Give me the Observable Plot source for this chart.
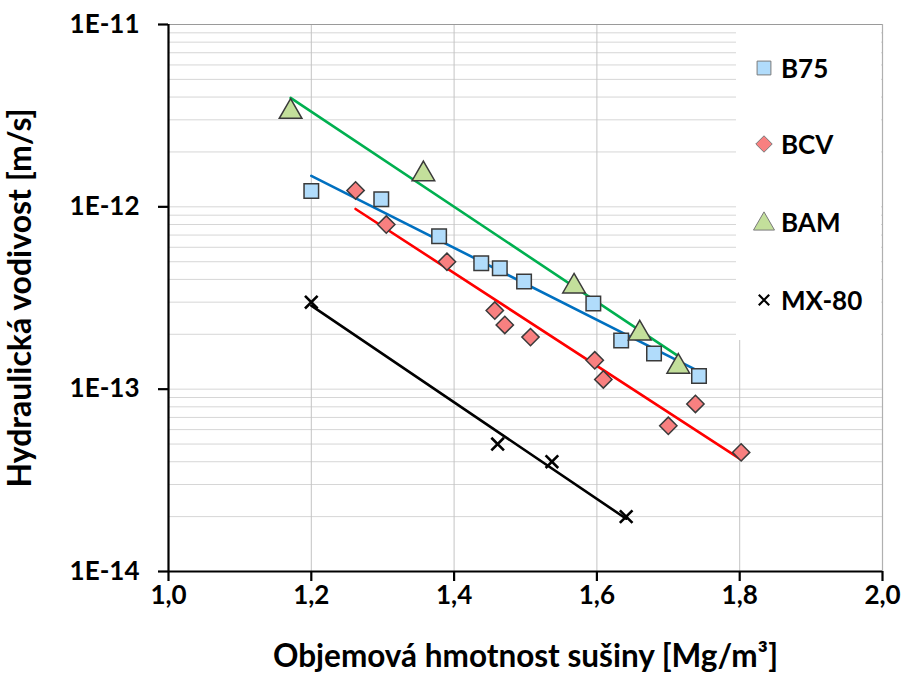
<!DOCTYPE html>
<html><head><meta charset="utf-8">
<script src="https://cdn.jsdelivr.net/npm/d3@7"></script>
<script src="https://cdn.jsdelivr.net/npm/@observablehq/plot@0.6"></script>
<style>
body{margin:0;background:#fff;}
#wrap{position:relative;width:903px;height:673px;font-family:Lato,"Open Sans",sans-serif;}
#legend{position:absolute;left:736px;top:25px;width:145px;height:315px;background:#fff;}
.item{position:absolute;left:0;height:30px;display:flex;align-items:center;font-weight:bold;font-size:26px;color:#000;}
.item svg{width:30px;height:30px;margin-left:13px;margin-right:2px;}
</style></head>
<body><div id="wrap"></div>
<script>
// ---- data ----
const seriesNames = ["B75", "BCV", "BAM", "MX-80"];
const b75X = [1.200, 1.298, 1.379, 1.438, 1.464, 1.498, 1.595, 1.634, 1.680, 1.743];
const b75Y = [1.22e-12, 1.10e-12, 6.9e-13, 4.9e-13, 4.6e-13, 3.9e-13, 2.95e-13, 1.85e-13, 1.57e-13, 1.18e-13];
const bcvX = [1.262, 1.305, 1.390, 1.457, 1.471, 1.507, 1.597, 1.609, 1.700, 1.738, 1.802];
const bcvY = [1.23e-12, 8.0e-13, 5.0e-13, 2.7e-13, 2.25e-13, 1.93e-13, 1.44e-13, 1.13e-13, 6.3e-14, 8.3e-14, 4.5e-14];
const bamX = [1.171, 1.357, 1.568, 1.660, 1.714];
const bamY = [3.45e-12, 1.57e-12, 3.8e-13, 2.1e-13, 1.38e-13];
const mxX = [1.200, 1.461, 1.537, 1.641];
const mxY = [3.0e-13, 5.0e-14, 4.0e-14, 2.0e-14];
const xTicks = [1.0, 1.2, 1.4, 1.6, 1.8, 2.0];
const yTicks = [1e-14, 1e-13, 1e-12, 1e-11];

// ---- styles ----
const styles = {
  "B75": {symbol: "square", r: 8.2, fill: "#b1dcfb", line: "#0070c0"},
  "BCV": {symbol: "diamond2", r: 7.8, fill: "#f88080", line: "#ff0000"},
  "BAM": {symbol: "triangle", r: 8.4, fill: "#c3df9b", line: "#00b050"},
  "MX-80": {symbol: "times", r: 5.8, fill: "none", line: "#000000"}
};

const zip = (xs, ys) => xs.map((x, i) => ({x, y: ys[i]}));
const series = {
  "B75": zip(b75X, b75Y),
  "BCV": zip(bcvX, bcvY),
  "BAM": zip(bamX, bamY),
  "MX-80": zip(mxX, mxY)
};

// exponential trendline (least squares on log10 y), drawn over each series' x range
function trend(pts) {
  const mx = d3.mean(pts, d => d.x), my = d3.mean(pts, d => Math.log10(d.y));
  const sxy = d3.sum(pts, d => (d.x - mx) * (Math.log10(d.y) - my));
  const sxx = d3.sum(pts, d => (d.x - mx) ** 2);
  const b = sxy / sxx, a = my - b * mx;
  const [x0, x1] = d3.extent(pts, d => d.x);
  return [x0, x1].map(x => ({x, y: 10 ** (a + b * x)}));
}

const minorGrid = [];
for (const k of [-14, -13, -12]) for (let m = 1; m <= 9; m++) minorGrid.push(m * 10 ** k);
minorGrid.push(1e-11);

const fontFamily = 'Lato, "Open Sans", sans-serif';

const marks = [
  Plot.gridY(minorGrid, {stroke: "#d6d6d6", strokeOpacity: 1, strokeWidth: 1}),
  Plot.gridX([1.2, 1.4, 1.6, 1.8], {stroke: "#c4c4c4", strokeOpacity: 1, strokeWidth: 1}),
  Plot.ruleY([1e-11], {stroke: "#9a9a9a", strokeWidth: 1.2}),
  Plot.ruleX([2.0], {stroke: "#b0b0b0", strokeWidth: 1.2})
];
for (const name of seriesNames) {
  marks.push(Plot.line(trend(series[name]), {x: "x", y: "y", stroke: styles[name].line, strokeWidth: 2.6}));
}
for (const name of seriesNames) {
  const s = styles[name];
  if (name === "MX-80") {
    marks.push(Plot.dot(series[name], {x: "x", y: "y", symbol: s.symbol, r: s.r, stroke: "#000", strokeWidth: 2.6}));
  } else {
    marks.push(Plot.dot(series[name], {x: "x", y: "y", symbol: s.symbol, r: s.r, fill: s.fill, fillOpacity: 1,
      stroke: "#3a3a3a", strokeWidth: 1.5, dy: name === "BAM" ? 3 : 0}));
  }
}
marks.push(
  Plot.ruleX([1.0], {stroke: "#000", strokeWidth: 2.2}),
  Plot.ruleY([1e-14], {stroke: "#000", strokeWidth: 2.2}),
  Plot.axisY({ticks: yTicks, tickFormat: d => "1E" + Math.round(Math.log10(d)), tickSize: 10, tickPadding: 19,
    strokeWidth: 2.2, fontSize: 26, fontWeight: "bold", fontFamily, label: null}),
  Plot.axisY({ticks: [], tickSize: 0, fontSize: 32, fontWeight: "bold", fontFamily,
    label: "Hydraulická vodivost [m/s]", labelAnchor: "center", labelArrow: "none", labelOffset: 160}),
  Plot.axisX({ticks: xTicks, tickFormat: d => d.toFixed(1).replace(".", ","), tickSize: 10, tickPadding: 4,
    strokeWidth: 2.2, fontSize: 26, fontWeight: "bold", fontFamily, label: null}),
  Plot.axisX({ticks: [], tickSize: 0, fontSize: 31.5, fontWeight: "bold", fontFamily,
    label: "Objemová hmotnost sušiny [Mg/m³]", labelAnchor: "center", labelArrow: "none", labelOffset: 95})
);

const chart = Plot.plot({
  width: 903, height: 673,
  marginLeft: 168, marginRight: 21, marginTop: 24, marginBottom: 102,
  x: {domain: [1, 2]},
  y: {type: "log", domain: [1e-14, 1e-11]},
  style: {fontFamily, color: "#000", background: "#fff", overflow: "visible"},
  marks
});
const wrap = document.getElementById("wrap");
wrap.appendChild(chart);

// ---- legend ----
const legend = document.createElement("div");
legend.id = "legend";
const legendTops = {"B75": 28, "BCV": 104, "BAM": 182, "MX-80": 260};
const legendR = {"B75": 7.8, "BCV": 7.4, "BAM": 7.8, "MX-80": 4.8};
for (const name of seriesNames) {
  const s = styles[name];
  const item = document.createElement("div");
  item.className = "item";
  item.style.top = legendTops[name] + "px";
  const sym = {square: d3.symbolSquare, diamond2: d3.symbolDiamond2, triangle: d3.symbolTriangle, times: d3.symbolTimes}[s.symbol];
  const path = d3.symbol(sym, Math.PI * legendR[name] ** 2)();
  const st = name === "MX-80" ? `fill="none" stroke="#000" stroke-width="2.2"` : `fill="${s.fill}" stroke="#7a7a7a" stroke-width="1"`;
  const ty = name === "BAM" ? 17 : 15;
  item.innerHTML = `<svg viewBox="0 0 30 30"><path transform="translate(15,${ty})" d="${path}" ${st}/></svg><span>${name}</span>`;
  legend.appendChild(item);
}
wrap.appendChild(legend);
</script>
</body></html>
